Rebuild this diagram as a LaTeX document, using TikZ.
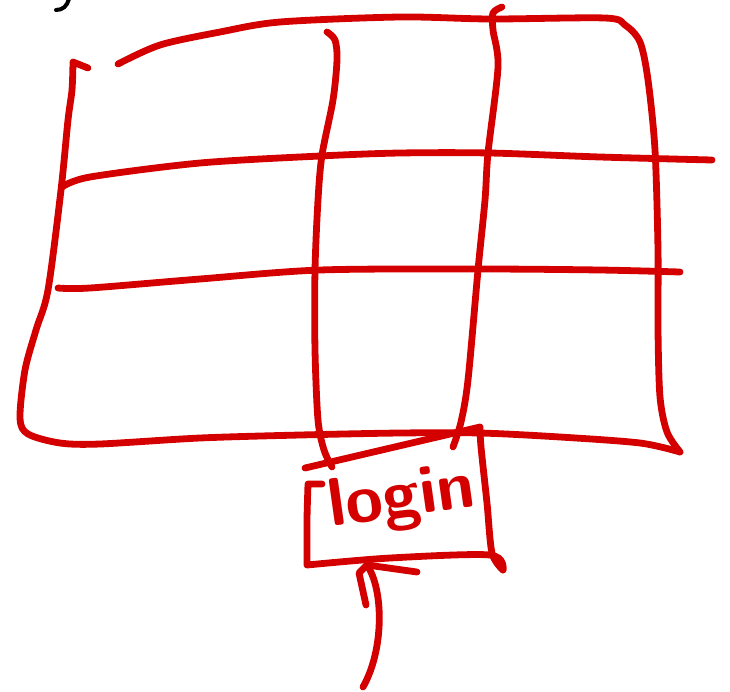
\documentclass[tikz,border=0pt]{standalone}
\usepackage{amsmath, amssymb}
\usepackage{tikz}
\usetikzlibrary{calc}
\definecolor{ink}{RGB}{212,0,0}

\begin{document}
\begin{tikzpicture}[x=1pt, y=-1pt, >=stealth,
		sketch/.style={draw=ink, line width=6.8pt, line cap=round, line join=round}]
			\useasboundingbox (0,0) rectangle (730,691);
			% the black scrap at the top
			\draw[line width=4pt, line cap=round] (56,10) .. controls (63,10) and (67,6) .. (69,-1);
			% outer frame
			\draw[sketch] (88,68) -- (73,62) plot[smooth] coordinates {(73,62) (72,90) (68,120) (61,190) (48,290) (36,330) (25,370) (20,418) (28,434) (60,443) (100,444) (200,438) (300,435) (400,433) (480,433) (560,437) (640,443) (680,452)};
			\draw[sketch] plot[smooth] coordinates {(118,64) (160,45) (220,32) (280,22) (400,17) (490,19) (605,18) (625,25) (640,42) (648,80) (655,150) (658,250) (658,330) (660,397) (667,432) (680,452)};
			% rows
			\draw[sketch] plot[smooth] coordinates {(62,187) (90,177) (200,163) (320,156) (400,153) (490,153) (600,157) (712,160)};
			\draw[sketch] plot[smooth] coordinates {(58,288) (90,288) (200,279) (320,270) (480,269) (600,270) (680,272)};
			% columns
			\draw[sketch] plot[smooth] coordinates {(327,32) (335,40) (337,60) (333,100) (322,155) (318,200) (315,270) (315,350) (318,420) (324,450) (332,467)};
			\draw[sketch] plot[smooth] coordinates {(502,7) (493,13) (493,30) (498,67) (488,153) (485,200) (478,270) (468,380) (461,422) (453,447)};
			% the login box
			\draw[sketch] (305,468) -- (480,427) plot[smooth] coordinates {(480,427) (481,447) (487,503) (492,553) (503,570)};
			\draw[sketch] (322,484) -- (308,484) plot[smooth] coordinates {(308,484) (307,520) (307,565)} plot[smooth] coordinates {(307,565) (390,558) (490,555) (503,570)};
			\node[text=ink, rotate=8, font=\sffamily\bfseries\fontsize{68}{68}\selectfont, inner sep=0pt] (login) at (402,500) {login};
			% arrow up to the box
			\coordinate (tail) at (363,687);
			\coordinate (tip) at (367,565);
			\draw[sketch] (tail) .. controls (384,650) and (384,590) .. (tip);
			\draw[sketch] (366,605) -- (359,573) -- (tip) -- (417,572);
	\end{tikzpicture}
\end{document}
